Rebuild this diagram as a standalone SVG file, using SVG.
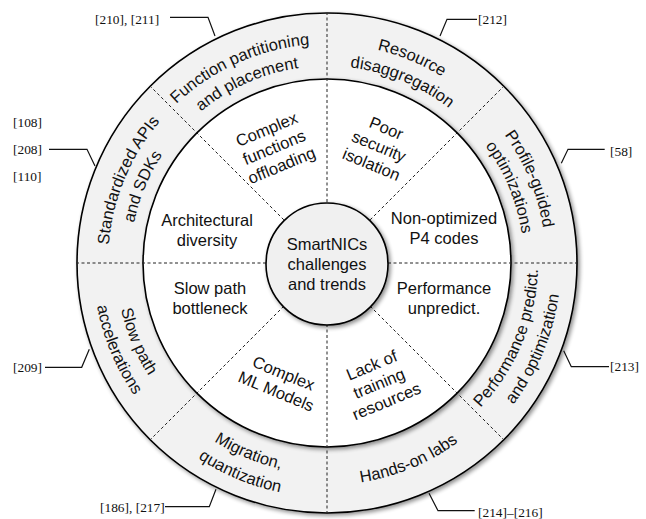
<svg xmlns="http://www.w3.org/2000/svg" width="646" height="519" viewBox="0 0 646 519">
<style>
.t{font-family:"Liberation Sans",Arial,sans-serif;font-size:16.5px;fill:#111;text-anchor:middle}
.b{font-family:"Liberation Sans",Arial,sans-serif;font-size:16.5px;fill:#111}
.r{font-family:"Liberation Serif","Times New Roman",serif;font-size:13.4px;fill:#111}
.ring{stroke:#000;stroke-width:1.6}
.dash{stroke:#222;stroke-width:1;stroke-dasharray:3 2.5;fill:none}
.lead{stroke:#111;stroke-width:1.2;fill:none}
</style>
<defs>
<filter id="sh" x="-10%" y="-10%" width="125%" height="125%">
<feGaussianBlur in="SourceAlpha" stdDeviation="2"/>
<feOffset dx="2" dy="2" result="o"/>
<feComponentTransfer><feFuncA type="linear" slope="0.45"/></feComponentTransfer>
<feMerge><feMergeNode/><feMergeNode in="SourceGraphic"/></feMerge>
</filter>
<path id="a1o" d="M130.17,167 A219,219 0 0 1 387.37,52.48"/>
<path id="a1i" d="M149.94,176.64 A197,197 0 0 1 381.3,73.63"/>
<path id="a2o" d="M261.14,54.14 A219,219 0 0 1 521.26,161.88"/>
<path id="a2i" d="M267.76,75.12 A197,197 0 0 1 501.74,172.04"/>
<path id="a3o" d="M428.12,68.74 A219,219 0 0 1 535.86,328.86"/>
<path id="a3i" d="M417.96,88.26 A197,197 0 0 1 514.88,322.24"/>
<path id="a4i" d="M424.43,450.16 A211,211 0 0 0 528.23,199.55"/>
<path id="a4o" d="M435.05,470.56 A234,234 0 0 0 550.17,192.63"/>
<path id="a5" d="M260.24,474.73 A222,222 0 0 0 523.92,365.51"/>
<path id="a6i" d="M139.84,360.43 A211,211 0 0 0 390.45,464.23"/>
<path id="a6o" d="M119.44,371.05 A234,234 0 0 0 397.37,486.17"/>
<path id="a7i" d="M125.77,199.55 A211,211 0 0 0 229.57,450.16"/>
<path id="a7o" d="M103.83,192.63 A234,234 0 0 0 218.95,470.56"/>
<path id="a8o" d="M118.14,328.86 A219,219 0 0 1 225.88,68.74"/>
<path id="a8i" d="M139.12,322.24 A197,197 0 0 1 236.04,88.26"/>
</defs>

<g id="outer-ring">
<circle class="ring" cx="327" cy="263" r="250" fill="#f2f2f2" filter="url(#sh)"/>
</g>
<g id="inner-area">
<circle class="ring" cx="327" cy="263" r="184" fill="#ffffff" filter="url(#sh)"/>
</g>

<g id="connectors">
<g id="dividers">
<line class="dash" x1="388" y1="263" x2="577" y2="263"/>
<line class="dash" x1="266" y1="263" x2="77" y2="263"/>
<line class="dash" x1="327" y1="202" x2="327" y2="13"/>
<line class="dash" x1="327" y1="324" x2="327" y2="513"/>
<line class="dash" x1="370.13" y1="219.87" x2="503.78" y2="86.22"/>
<line class="dash" x1="283.87" y1="219.87" x2="150.22" y2="86.22"/>
<line class="dash" x1="283.87" y1="306.13" x2="150.22" y2="439.78"/>
<line class="dash" x1="370.13" y1="306.13" x2="503.78" y2="439.78"/>
</g>
<g id="leaders">
<polyline class="lead" points="170,17.3 208,17.3 215,36"/>
<polyline class="lead" points="49,149.3 87,149.3 95,166"/>
<polyline class="lead" points="440,36 447,19.3 477,19.3"/>
<polyline class="lead" points="561.3,163.3 568,149.3 604.7,149.3"/>
<polyline class="lead" points="45,367.3 81.7,367.3 89.3,349.3"/>
<polyline class="lead" points="165,506.7 209.3,506.7 216,489.3"/>
<polyline class="lead" points="563.7,350.7 571.3,366.7 609,366.7"/>
<polyline class="lead" points="429,493.3 438,510.7 474.7,510.7"/>
</g>
</g>

<g id="center">
<circle class="ring" cx="327" cy="264" r="61" fill="#f0f0f0" filter="url(#sh)"/>
<text class="t" x="327" y="250">SmartNICs</text>
<text class="t" x="327" y="270">challenges</text>
<text class="t" x="327" y="290">and trends</text>
</g>

<g id="challenge-complex-functions" transform="translate(274,147) rotate(-22.5)">
<text class="t" x="0" y="-13.5">Complex</text>
<text class="t" x="0" y="6">functions</text>
<text class="t" x="0" y="25.5">offloading</text>
</g>
<g id="challenge-security" transform="translate(379,146) rotate(22.5)">
<text class="t" x="0" y="-13.5">Poor</text>
<text class="t" x="0" y="6">security</text>
<text class="t" x="0" y="25.5">isolation</text>
</g>
<g id="challenge-architecture">
<text class="t" x="207" y="226">Architectural</text>
<text class="t" x="207" y="245.5">diversity</text>
</g>
<g id="challenge-p4">
<text class="t" x="444" y="224">Non-optimized</text>
<text class="t" x="444" y="243.5">P4 codes</text>
</g>
<g id="challenge-slow-path">
<text class="t" x="210" y="294">Slow path</text>
<text class="t" x="210" y="313.5">bottleneck</text>
</g>
<g id="challenge-performance">
<text class="t" x="444" y="294">Performance</text>
<text class="t" x="444" y="313.5">unpredict.</text>
</g>
<g id="challenge-ml" transform="translate(280,382) rotate(22.5)">
<text class="t" x="0" y="-3.75">Complex</text>
<text class="t" x="0" y="15.75">ML Models</text>
</g>
<g id="challenge-training" transform="translate(379,383) rotate(-22.5)">
<text class="t" x="0" y="-13.5">Lack of</text>
<text class="t" x="0" y="6">training</text>
<text class="t" x="0" y="25.5">resources</text>
</g>

<g id="trend-function-partitioning">
<text class="b"><textPath href="#a1o" startOffset="50%" text-anchor="middle">Function partitioning</textPath></text>
<text class="b"><textPath href="#a1i" startOffset="50%" text-anchor="middle">and placement</textPath></text>
</g>
<g id="trend-resource">
<text class="b"><textPath href="#a2o" startOffset="50%" text-anchor="middle">Resource</textPath></text>
<text class="b"><textPath href="#a2i" startOffset="50%" text-anchor="middle">disaggregation</textPath></text>
</g>
<g id="trend-profile">
<text class="b"><textPath href="#a3o" startOffset="50%" text-anchor="middle">Profile-guided</textPath></text>
<text class="b"><textPath href="#a3i" startOffset="50%" text-anchor="middle">optimizations</textPath></text>
</g>
<g id="trend-performance">
<text class="b"><textPath href="#a4i" startOffset="50%" text-anchor="middle">Performance predict.</textPath></text>
<text class="b"><textPath href="#a4o" startOffset="50%" text-anchor="middle">and optimization</textPath></text>
</g>
<g id="trend-hands-on">
<text class="b"><textPath href="#a5" startOffset="50%" text-anchor="middle">Hands-on labs</textPath></text>
</g>
<g id="trend-migration">
<text class="b"><textPath href="#a6i" startOffset="50%" text-anchor="middle">Migration,</textPath></text>
<text class="b"><textPath href="#a6o" startOffset="50%" text-anchor="middle">quantization</textPath></text>
</g>
<g id="trend-slow-path">
<text class="b"><textPath href="#a7i" startOffset="50%" text-anchor="middle">Slow path</textPath></text>
<text class="b"><textPath href="#a7o" startOffset="50%" text-anchor="middle">accelerations</textPath></text>
</g>
<g id="trend-apis">
<text class="b"><textPath href="#a8o" startOffset="50%" text-anchor="middle">Standardized APIs</textPath></text>
<text class="b"><textPath href="#a8i" startOffset="50%" text-anchor="middle">and SDKs</textPath></text>
</g>

<g id="references">
<text class="r" x="95" y="24">[210], [211]</text>
<text class="r" x="13" y="127">[108]</text>
<text class="r" x="13" y="154">[208]</text>
<text class="r" x="13" y="181">[110]</text>
<text class="r" x="478" y="24">[212]</text>
<text class="r" x="610" y="156">[58]</text>
<text class="r" x="13" y="372">[209]</text>
<text class="r" x="100" y="512">[186], [217]</text>
<text class="r" x="610" y="371">[213]</text>
<text class="r" x="478" y="516.5">[214]–[216]</text>
</g>
</svg>
